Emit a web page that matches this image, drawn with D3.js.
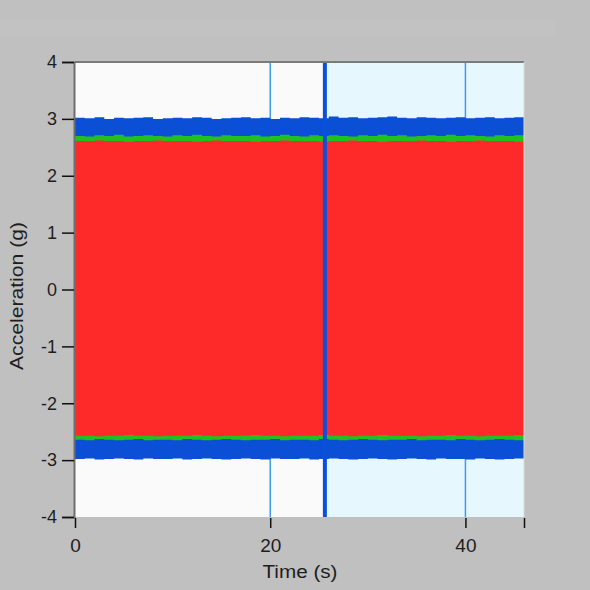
<!DOCTYPE html>
<html>
<head>
<meta charset="utf-8">
<script src="https://cdn.jsdelivr.net/npm/d3@7"></script>
<style>
  html, body { margin: 0; padding: 0; background: #c0c0c0; }
  svg { display: block; font-family: "Liberation Sans", Arial, sans-serif; }
</style>
</head>
<body>
<script>
// one envelope value per 1 s bin
var timeBins = d3.range(0, 46);
var blueMax = [3.02,3.01,3.03,3.00,3.02,3.01,3.02,3.03,3.00,3.01,3.02,3.01,3.03,3.02,3.00,3.01,3.02,3.03,3.01,3.02,3.00,3.02,3.01,3.03,3.02,3.01,3.04,3.02,3.03,3.01,3.02,3.03,3.04,3.02,3.01,3.03,3.02,3.01,3.02,3.03,3.01,3.02,3.03,3.01,3.02,3.03];
var blueMin = [-2.98,-2.97,-2.99,-2.98,-2.97,-2.98,-2.99,-2.97,-2.98,-2.98,-2.97,-2.99,-2.98,-2.97,-2.98,-2.99,-2.98,-2.97,-2.98,-2.99,-2.97,-2.98,-2.98,-2.97,-2.99,-2.98,-2.97,-2.98,-2.99,-2.98,-2.97,-2.98,-2.99,-2.98,-2.97,-2.98,-2.99,-2.97,-2.98,-2.98,-2.99,-2.97,-2.98,-2.99,-2.98,-2.97];
var greenMax = [2.70,2.69,2.71,2.70,2.72,2.69,2.70,2.71,2.70,2.69,2.71,2.70,2.72,2.70,2.69,2.71,2.70,2.70,2.71,2.69,2.70,2.72,2.70,2.69,2.71,2.70,2.71,2.70,2.69,2.71,2.70,2.72,2.70,2.71,2.69,2.70,2.71,2.70,2.72,2.70,2.71,2.70,2.69,2.71,2.70,2.71];
var greenMin = [-2.64,-2.65,-2.63,-2.64,-2.65,-2.64,-2.63,-2.65,-2.64,-2.64,-2.65,-2.63,-2.64,-2.65,-2.64,-2.63,-2.64,-2.65,-2.64,-2.64,-2.63,-2.65,-2.64,-2.64,-2.65,-2.63,-2.64,-2.65,-2.64,-2.63,-2.64,-2.65,-2.64,-2.64,-2.63,-2.65,-2.64,-2.64,-2.65,-2.63,-2.64,-2.65,-2.64,-2.63,-2.64,-2.65];
var redMax = [2.61,2.61,2.62,2.61,2.61,2.60,2.61,2.61,2.62,2.61,2.61,2.61,2.60,2.61,2.62,2.61,2.61,2.61,2.60,2.61,2.61,2.62,2.61,2.61,2.61,2.60,2.61,2.61,2.62,2.61,2.61,2.60,2.61,2.61,2.61,2.62,2.61,2.61,2.60,2.61,2.61,2.62,2.61,2.61,2.61,2.60];
var redMin = [-2.57,-2.57,-2.58,-2.57,-2.57,-2.56,-2.57,-2.57,-2.58,-2.57,-2.57,-2.57,-2.56,-2.57,-2.58,-2.57,-2.57,-2.57,-2.56,-2.57,-2.57,-2.58,-2.57,-2.57,-2.57,-2.56,-2.57,-2.57,-2.58,-2.57,-2.57,-2.56,-2.57,-2.57,-2.57,-2.58,-2.57,-2.57,-2.56,-2.57,-2.57,-2.58,-2.57,-2.57,-2.57,-2.56];

var xTicks = [0, 20, 40];
var yTicks = [-4, -3, -2, -1, 0, 1, 2, 3, 4];
var gridTimes = [20, 40];
var cursorTime = 25.6;
var timeEnd = 46;

var W = 590, H = 590;
var margin = { top: 62, right: 66, bottom: 73, left: 75 };

var svg = d3.select('body').append('svg')
  .attr('width', W)
  .attr('height', H);

svg.append('rect').attr('x', 0).attr('y', 0).attr('width', W).attr('height', H).attr('fill', '#c0c0c0');
svg.append('rect').attr('x', 0).attr('y', 20).attr('width', 555).attr('height', 16).attr('fill', '#c2c2c2');

var x = d3.scaleLinear().domain([0, timeEnd]).range([margin.left, W - margin.right]);
var y = d3.scaleLinear().domain([-4, 4]).range([H - margin.bottom, margin.top]);

// plot backgrounds: before and after the cursor
svg.append('rect')
  .attr('x', x(0)).attr('y', y(4))
  .attr('width', x(cursorTime) - x(0)).attr('height', y(-4) - y(4))
  .attr('fill', '#fafafa');
svg.append('rect')
  .attr('x', x(cursorTime)).attr('y', y(4))
  .attr('width', x(timeEnd) - x(cursorTime)).attr('height', y(-4) - y(4))
  .attr('fill', '#e6f8fe');

svg.selectAll('line.grid')
  .data(gridTimes)
  .enter().append('line')
  .attr('class', 'grid')
  .attr('x1', d => x(d)).attr('x2', d => x(d))
  .attr('y1', y(4)).attr('y2', y(-4))
  .attr('stroke', '#3d9bf5')
  .attr('stroke-width', 1.5);

function band(maxArr, minArr, color) {
  var pts = timeBins.map((t, i) => ({ t: t, hi: maxArr[i], lo: minArr[i] }));
  pts.push({ t: timeEnd, hi: maxArr[maxArr.length - 1], lo: minArr[minArr.length - 1] });
  var area = d3.area()
    .curve(d3.curveStepAfter)
    .x(d => x(d.t))
    .y0(d => y(d.lo))
    .y1(d => y(d.hi));
  svg.append('path')
    .datum(pts)
    .attr('d', area)
    .attr('fill', color);
}

band(blueMax, blueMin, '#0a4fd6');
band(greenMax, greenMin, '#22c01e');
band(redMax, redMin, '#fe2a2a');

// cursor
svg.append('line')
  .attr('x1', x(cursorTime)).attr('x2', x(cursorTime))
  .attr('y1', y(4)).attr('y2', y(-4))
  .attr('stroke', '#0a50dc')
  .attr('stroke-width', 4);

// frame
svg.append('line')
  .attr('x1', x(0)).attr('x2', x(timeEnd))
  .attr('y1', y(4)).attr('y2', y(4))
  .attr('stroke', '#7a7a7a').attr('stroke-width', 2);
svg.append('line')
  .attr('x1', x(timeEnd)).attr('x2', x(timeEnd))
  .attr('y1', y(4)).attr('y2', y(-4))
  .attr('stroke', '#d8d8d8').attr('stroke-width', 1);

// y axis
var yAxis = svg.append('g')
  .attr('transform', 'translate(' + (x(0) - 1) + ',0)')
  .call(d3.axisLeft(y).tickValues(yTicks).tickSize(12).tickPadding(5).tickFormat(d3.format('d')));
yAxis.select('.domain').attr('stroke', '#6e6e6e').attr('stroke-width', 2);
yAxis.selectAll('.tick line').attr('stroke', '#111').attr('stroke-width', 1.5);
yAxis.selectAll('.tick text')
  .attr('font-size', 18)
  .attr('fill', '#1e1e1e')
  .text(d => d < 0 ? '-' + Math.abs(d) : d);

// x axis, offset below the plot
var xAxis = svg.append('g')
  .attr('transform', 'translate(0,' + (y(-4) + 1) + ')')
  .call(d3.axisBottom(x).tickValues(xTicks.concat([timeEnd])).tickSize(10).tickPadding(11)
    .tickFormat(d => xTicks.indexOf(d) >= 0 ? d : ''));
xAxis.select('.domain').remove();
xAxis.selectAll('.tick line').attr('stroke', '#111').attr('stroke-width', 1.5);
xAxis.selectAll('.tick text').attr('font-size', 19).attr('fill', '#1e1e1e');

svg.append('text')
  .attr('x', (x(0) + x(timeEnd)) / 2 + 0.5)
  .attr('y', 578)
  .attr('text-anchor', 'middle')
  .attr('font-size', 18)
  .attr('textLength', 75)
  .attr('lengthAdjust', 'spacingAndGlyphs')
  .attr('fill', '#1e1e1e')
  .text('Time (s)');

svg.append('text')
  .attr('transform', 'translate(23,296) rotate(-90)')
  .attr('text-anchor', 'middle')
  .attr('font-size', 18)
  .attr('textLength', 148)
  .attr('lengthAdjust', 'spacingAndGlyphs')
  .attr('fill', '#1e1e1e')
  .text('Acceleration (g)');
</script>
</body>
</html>
